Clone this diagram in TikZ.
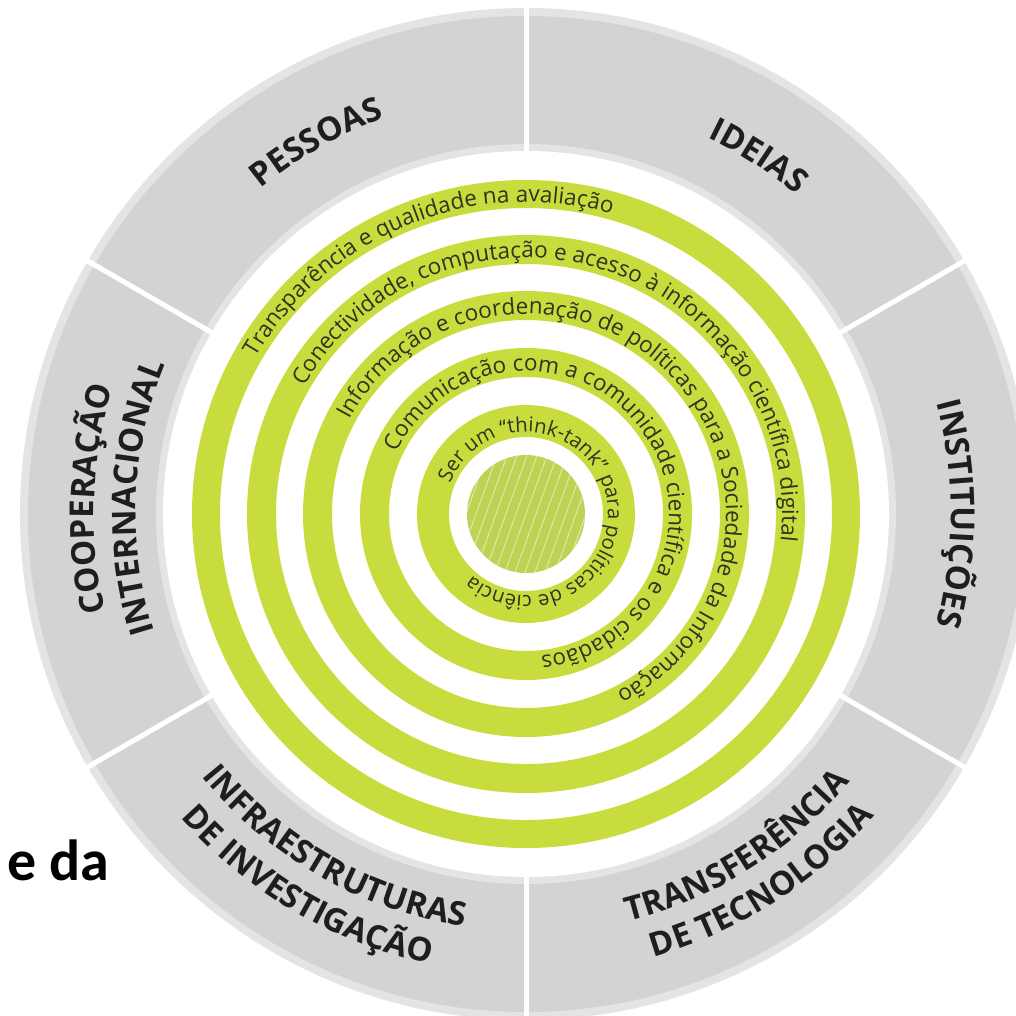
\documentclass[tikz,border=0pt]{standalone}
\usepackage{fontspec}
\setmainfont{Open Sans}
\newfontfamily\calfont{Carlito}
\usetikzlibrary{decorations.text}
\definecolor{ringgreen}{HTML}{C8DC3E}
\definecolor{discgreen}{HTML}{BCD353}
\definecolor{segray}{HTML}{D3D3D5}
\definecolor{halo}{HTML}{E4E4E5}
\definecolor{ringtext}{HTML}{2F3320}
\definecolor{labtext}{HTML}{1E1E1E}
\newcommand\rtf{\fontsize{22.5}{26}\selectfont\color{ringtext}}
\newcommand\rtfs{\fontsize{20.3}{24}\selectfont\color{ringtext}}
\newcommand\lbf{\fontsize{33}{40}\selectfont\bfseries\color{labtext}}
\tikzset{
  ringtxt/.style={decorate, decoration={text along path, text align=center, text={|\rtf|#1}}},
  ringtxts/.style={decorate, decoration={text along path, text align=center, text={|\rtfs|#1}}},
  labtxt/.style={decorate, decoration={text along path, text align=center, text={|\lbf|#1}}},
  band/.style={draw=ringgreen, line width=#1},
}
\begin{document}
\begin{tikzpicture}[x=1pt,y=1pt]
\useasboundingbox (-526,-501) rectangle (490,514);
\fill[white] (-526,-501) rectangle (490,514);
% outer gray ring
\fill[halo] (0,0) circle[radius=506pt];
\fill[segray] (0,0) circle[radius=498pt];
\fill[halo] (0,0) circle[radius=370pt];
\fill[white] (0,0) circle[radius=363pt];
\foreach \a in {30,90,150,210,270,330}
  \draw[white, line width=5pt] (\a:360pt) -- (\a:512pt);
% green bands
\draw[band=28pt] (0,0) circle[radius=320pt];
\draw[band=29pt] (0,0) circle[radius=264.5pt];
\draw[band=29pt] (0,0) circle[radius=208.5pt];
\draw[band=29pt] (0,0) circle[radius=151.5pt];
\draw[band=32pt] (0,0) circle[radius=93pt];
% inner hatched disc
\fill[discgreen] (0,0) circle[radius=59pt];
\begin{scope}
  \clip (0,0) circle[radius=59pt];
  \foreach \i in {-11,...,11}
    \draw[white!55!discgreen, line width=0.9pt] (\i*10-27,-75) -- (\i*10+27,75);
\end{scope}
% ring texts (clockwise, tops outward)
\path[ringtxt={Transparência e qualidade na avaliação}] (292:312pt) arc[start angle=292, end angle=-68, radius=312pt];
\path[ringtxt={Conectividade, computação e acesso à informação científica digital}] (252:256pt) arc[start angle=252, end angle=-108, radius=256pt];
\path[ringtxt={Informação e coordenação de políticas para a Sociedade da Informação}] (224.4:200pt) arc[start angle=224.4, end angle=-135.6, radius=200pt];
\path[ringtxt={Comunicação com a comunidade científica e os cidadãos}] (215.2:143pt) arc[start angle=215.2, end angle=-144.8, radius=143pt];
\path[ringtxts={Ser um “think-tank” para políticas de ciência}] (193.4:82pt) arc[start angle=193.4, end angle=-166.6, radius=82pt];
% segment labels, upper half (clockwise, tops outward)
\path[labtxt={PESSOAS}] (179.4:420pt) arc[start angle=179.4, end angle=59.4, radius=420pt];
\path[labtxt={IDEIAS}] (117:418pt) arc[start angle=117, end angle=-3, radius=418pt];
\path[labtxt={INSTITUIÇÕES}] (60:425pt) arc[start angle=60, end angle=-60, radius=425pt];
\path[labtxt={COOPERAÇÃO}] (238:432pt) arc[start angle=238, end angle=118, radius=432pt];
\path[labtxt={INTERNACIONAL}] (237.5:390pt) arc[start angle=237.5, end angle=117.5, radius=390pt];
% segment labels, lower half (counter-clockwise, tops inward)
\path[labtxt={TRANSFERÊNCIA}] (242.3:420pt) arc[start angle=242.3, end angle=362.3, radius=420pt];
\path[labtxt={DE TECNOLOGIA}] (242.6:461pt) arc[start angle=242.6, end angle=362.6, radius=461pt];
\path[labtxt={INFRAESTRUTURAS}] (180.2:417pt) arc[start angle=180.2, end angle=300.2, radius=417pt];
\path[labtxt={DE INVESTIGAÇÃO}] (179.6:460pt) arc[start angle=179.6, end angle=299.6, radius=460pt];
% fragment of surrounding text
\node[anchor=base west, inner sep=0pt, font=\calfont\bfseries\fontsize{58}{68}\selectfont] (eda) at (-519,-366) {e da};
\end{tikzpicture}
\end{document}
